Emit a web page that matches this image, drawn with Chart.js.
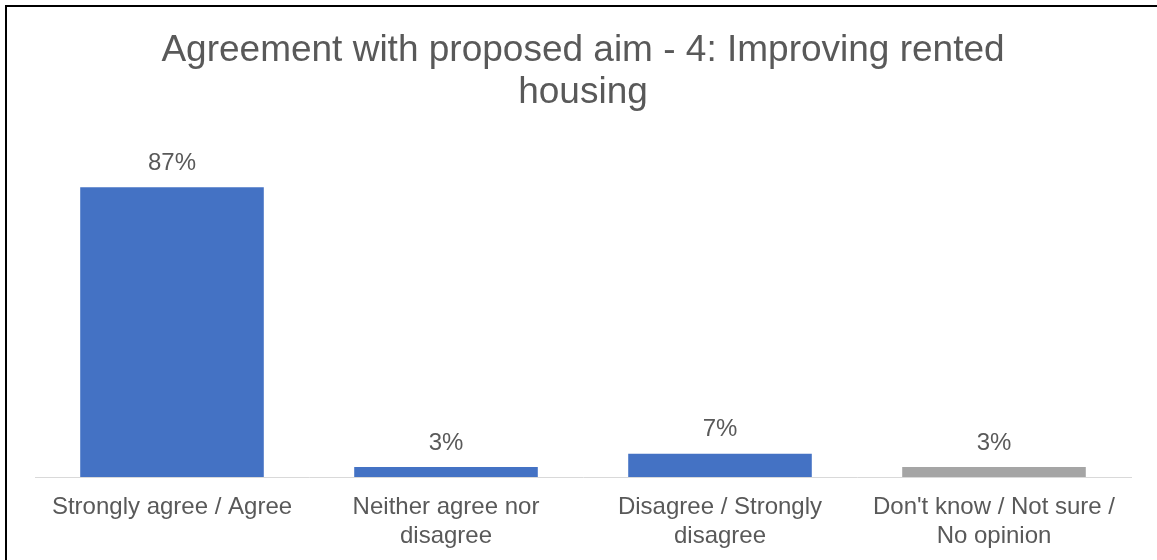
<!DOCTYPE html>
<html>
<head>
<meta charset="utf-8">
<script src="https://cdn.jsdelivr.net/npm/chart.js@4"></script>
<style>
  body { margin: 0; background: #fff; }
  #wrap { position: relative; width: 1157px; height: 560px; overflow: hidden; }
  #frame { position: absolute; left: 5px; top: 5px; width: 1200px; height: 600px;
           border-left: 2px solid #000; border-top: 2px solid #000; }
  canvas { position: absolute; left: 0; top: 0; }
</style>
</head>
<body>
<div id="wrap">
  <div id="frame"></div>
  <canvas id="chart" width="1157" height="560"></canvas>
</div>
<script>
const categories = [
  'Strongly agree / Agree',
  ['Neither agree nor', 'disagree'],
  ['Disagree / Strongly', 'disagree'],
  ["Don't know / Not sure /", 'No opinion'],
];
const values = [87, 3, 7, 3];
const barColors = ['#4472C4', '#4472C4', '#4472C4', '#A5A5A5'];
const titleLines = ['Agreement with proposed aim - 4: Improving rented', 'housing'];

const textColor = '#595959';
const fontFamily = '"Liberation Sans", Arial, sans-serif';

// draws the "87%" style labels over each bar
const valueLabels = {
  id: 'valueLabels',
  afterDatasetsDraw(chart) {
    const ctx = chart.ctx;
    const meta = chart.getDatasetMeta(0);
    ctx.save();
    ctx.font = '24px ' + fontFamily;
    ctx.fillStyle = textColor;
    ctx.textAlign = 'center';
    ctx.textBaseline = 'middle';
    meta.data.forEach((bar, i) => {
      ctx.fillText(values[i] + '%', bar.x, bar.y - 24);
    });
    ctx.restore();
  },
};

new Chart(document.getElementById('chart').getContext('2d'), {
  type: 'bar',
  data: {
    labels: categories,
    datasets: [
      {
        data: values,
        backgroundColor: barColors,
        categoryPercentage: 1,
        barPercentage: 0.67,
      },
    ],
  },
  options: {
    responsive: false,
    animation: false,
    layout: { padding: { left: 35, right: 26, top: 0, bottom: 0 } },
    plugins: {
      legend: { display: false },
      tooltip: { enabled: false },
      title: {
        display: true,
        text: titleLines,
        color: textColor,
        font: { family: fontFamily, size: 37, weight: 'normal', lineHeight: 1.135 },
        padding: { top: 30, bottom: 30 },
      },
    },
    scales: {
      x: {
        grid: { display: false, drawTicks: false },
        border: { color: '#D9D9D9', width: 1 },
        ticks: {
          color: textColor,
          font: { family: fontFamily, size: 24, lineHeight: 1.2 },
          padding: 16,
          maxRotation: 0,
          autoSkip: false,
        },
        afterFit(scale) {
          scale.height = 83;
        },
      },
      y: {
        display: false,
        min: 0,
        max: 100,
      },
    },
  },
  plugins: [valueLabels],
});
</script>
</body>
</html>
